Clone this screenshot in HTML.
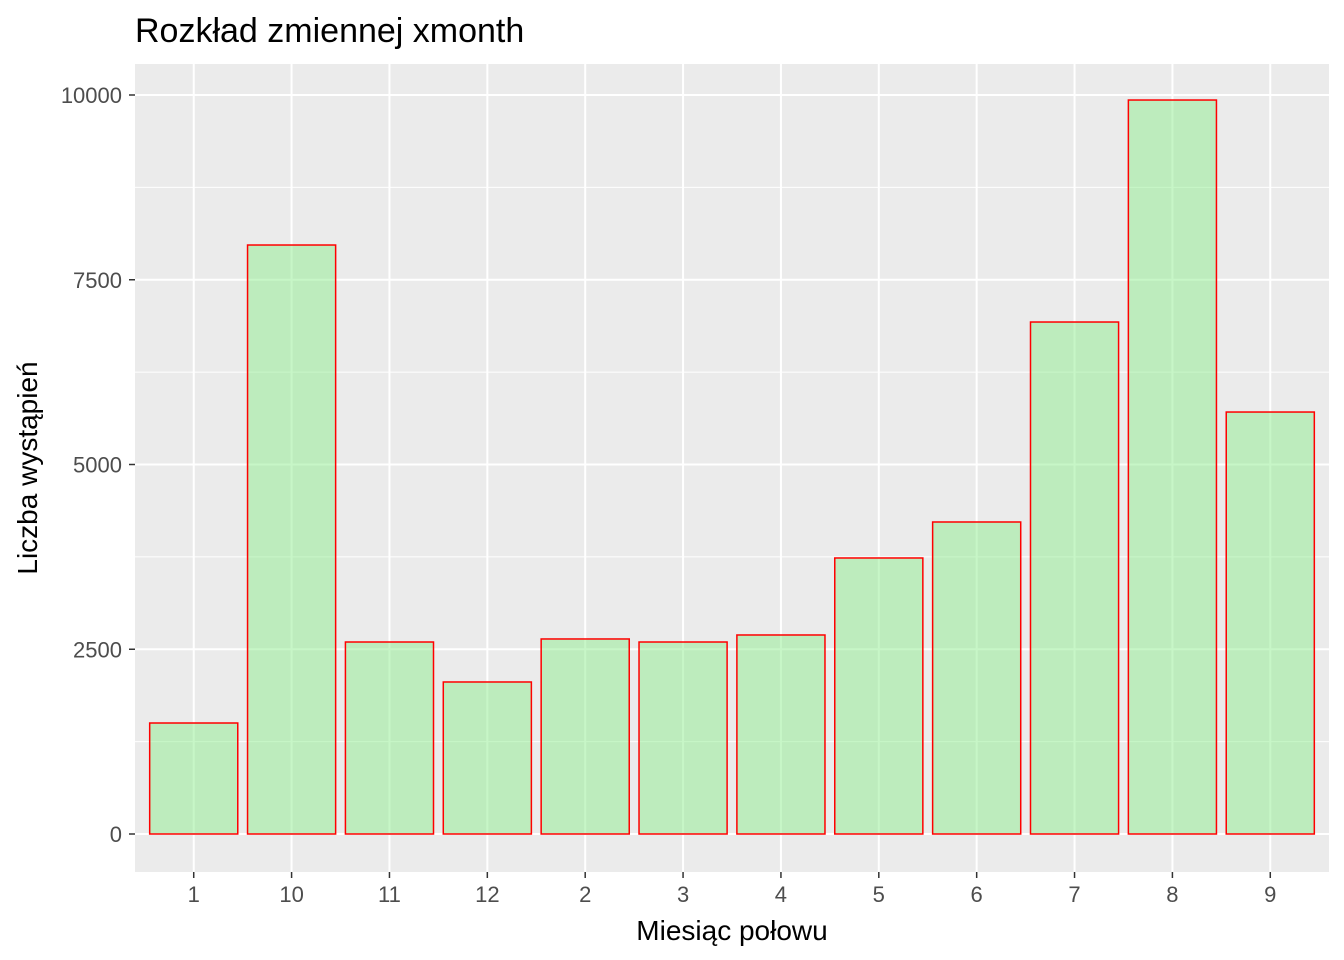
<!DOCTYPE html>
<html><head><meta charset="utf-8"><style>
body{margin:0;background:#fff;}
svg{display:block;font-family:"Liberation Sans",Arial,sans-serif;}
</style></head><body>
<svg id="chart" width="1344" height="960">
<text x="135" y="42" font-size="34" fill="#000">Rozkład zmiennej xmonth</text>
<rect x="135" y="64" width="1194" height="808" fill="#EBEBEB"/>
<g id="grid"></g><g id="bars"></g><g id="axes"></g>
<text x="732" y="940" font-size="28" text-anchor="middle" fill="#000">Miesiąc połowu</text>
<text transform="translate(37,468) rotate(-90)" font-size="28" text-anchor="middle" fill="#000">Liczba wystąpień</text>
</svg>
<script>
const categories=["1","10","11","12","2","3","4","5","6","7","8","9"];
const counts=[1502,7970,2598,2057,2639,2598,2693,3735,4222,6928,9932,5710];
const yTicks=[0,2500,5000,7500,10000];
const NS="http://www.w3.org/2000/svg";
const panelLeft=135,panelRight=1329,panelTop=64,panelBottom=872;
const step=(panelRight-panelLeft)/(categories.length+0.2);
const xc=i=>panelLeft+step*(0.6+i);
const y=v=>834-v*(834-95)/10000;
function mk(tag,attrs,parent){const e=document.createElementNS(NS,tag);for(const k in attrs)e.setAttribute(k,attrs[k]);document.getElementById(parent).appendChild(e);return e;}
for(let i=0;i<yTicks.length;i++){
 const v=yTicks[i];
 if(i<yTicks.length-1){const m=mk('line',{x1:panelLeft,x2:panelRight,y1:y(v+1250),y2:y(v+1250),stroke:'#fff','stroke-width':1},'grid');
 
 }
 const g=mk('line',{x1:panelLeft,x2:panelRight,y1:y(v),y2:y(v),stroke:'#fff','stroke-width':2},'grid');
 
 
 const t=mk('text',{x:122,y:y(v)+8,'font-size':22,'text-anchor':'end',fill:'#4D4D4D'},'axes');t.textContent=v;
 
 
 const tk=mk('line',{x1:129,x2:135,y1:y(v),y2:y(v),stroke:'#333','stroke-width':1.5},'axes');
 
 
}
categories.forEach((c,i)=>{
 const g=mk('line',{x1:xc(i),x2:xc(i),y1:panelTop,y2:panelBottom,stroke:'#fff','stroke-width':2},'grid');
 
 
 const w=step*0.9;
 const b=mk('rect',{x:xc(i)-w/2,y:y(counts[i]),width:w,height:y(0)-y(counts[i]),fill:'rgba(144,238,144,0.5)',stroke:'#FF0000','stroke-width':1.5},'bars');
 
 
 const tk=mk('line',{x1:xc(i),x2:xc(i),y1:panelBottom,y2:panelBottom+6,stroke:'#333','stroke-width':1.5},'axes');
 
 
 const t=mk('text',{x:xc(i),y:902,'font-size':22,'text-anchor':'middle',fill:'#4D4D4D'},'axes');t.textContent=c;
 
 
});
</script>
</body></html>
